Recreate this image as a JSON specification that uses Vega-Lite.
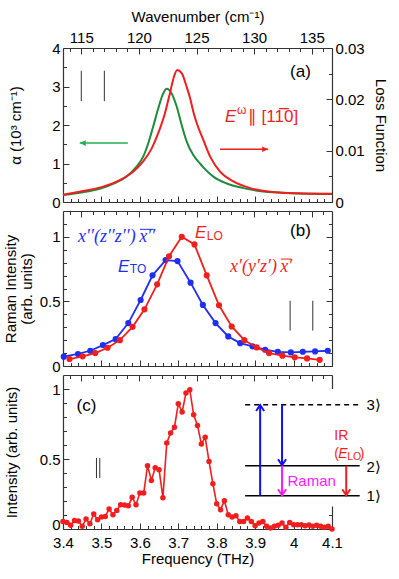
{
"$schema":"https://vega.github.io/schema/vega-lite/v6.json",
"autosize":{"type":"none"},
"padding":{"left":63,"top":48,"right":67,"bottom":50},
"background":"white",
"width":269,"height":481,
"config":{"font":"Liberation Sans","view":{"stroke":null},
 "axis":{"grid":false,"labelFlush":false,"labelOverlap":false,"domainColor":"#333","tickColor":"#333","domainWidth":1.2,"tickWidth":1,"labelFontSize":15,"titleFontSize":15,"titleFontWeight":"normal","labelColor":"black","titleColor":"black","labelFont":"Liberation Sans","titleFont":"Liberation Sans","titleLineHeight":16},
 "text":{"font":"Liberation Sans"}},
"datasets":{
 "ga":[{"f":3.4,"a":0.18},{"f":3.4436,"a":0.24},{"f":3.4957,"a":0.34},{"f":3.5304,"a":0.47},{"f":3.5654,"a":0.66},{"f":3.5914,"a":0.92},{"f":3.6087,"a":1.18},{"f":3.6217,"a":1.52},{"f":3.6347,"a":1.96},{"f":3.6478,"a":2.43},{"f":3.6608,"a":2.82},{"f":3.6697,"a":2.94},{"f":3.6827,"a":2.82},{"f":3.6958,"a":2.48},{"f":3.7088,"a":2.0},{"f":3.7219,"a":1.57},{"f":3.7391,"a":1.22},{"f":3.7565,"a":1.0},{"f":3.7652,"a":0.9},{"f":3.7912,"a":0.66},{"f":3.8262,"a":0.48},{"f":3.8695,"a":0.36},{"f":3.9216,"a":0.27},{"f":3.9913,"a":0.23},{"f":4.1,"a":0.21}],
 "la":[{"f":3.4,"l":0.00143},{"f":3.4436,"l":0.002},{"f":3.5043,"l":0.003},{"f":3.5479,"l":0.00428},{"f":3.5826,"l":0.0059},{"f":3.6087,"l":0.0079},{"f":3.6306,"l":0.0104},{"f":3.6478,"l":0.0134},{"f":3.6653,"l":0.0173},{"f":3.6783,"l":0.0212},{"f":3.6887,"l":0.0244},{"f":3.6973,"l":0.0257},{"f":3.7088,"l":0.0251},{"f":3.7219,"l":0.0224},{"f":3.7305,"l":0.0203},{"f":3.7391,"l":0.0176},{"f":3.7479,"l":0.0154},{"f":3.7652,"l":0.0121},{"f":3.7826,"l":0.0089},{"f":3.8087,"l":0.0059},{"f":3.8434,"l":0.004},{"f":3.887,"l":0.0027},{"f":3.9391,"l":0.002},{"f":4.0088,"l":0.0017},{"f":4.1,"l":0.0016}],
 "bb":[{"f":3.402,"v":0.072},{"f":3.439,"v":0.093},{"f":3.471,"v":0.118},{"f":3.504,"v":0.162},{"f":3.537,"v":0.208},{"f":3.57,"v":0.332},{"f":3.602,"v":0.511},{"f":3.633,"v":0.702},{"f":3.667,"v":0.82},{"f":3.698,"v":0.812},{"f":3.732,"v":0.645},{"f":3.764,"v":0.473},{"f":3.797,"v":0.332},{"f":3.83,"v":0.229},{"f":3.861,"v":0.177},{"f":3.893,"v":0.152},{"f":3.926,"v":0.126},{"f":3.959,"v":0.11},{"f":3.993,"v":0.105},{"f":4.024,"v":0.11},{"f":4.056,"v":0.113},{"f":4.089,"v":0.118}],
 "br":[{"f":3.417,"v":0.054},{"f":3.451,"v":0.075},{"f":3.484,"v":0.1},{"f":3.516,"v":0.141},{"f":3.548,"v":0.2},{"f":3.581,"v":0.303},{"f":3.612,"v":0.439},{"f":3.645,"v":0.632},{"f":3.676,"v":0.85},{"f":3.709,"v":1.0},{"f":3.742,"v":0.941},{"f":3.774,"v":0.702},{"f":3.806,"v":0.47},{"f":3.839,"v":0.306},{"f":3.872,"v":0.2},{"f":3.904,"v":0.144},{"f":3.936,"v":0.1},{"f":3.971,"v":0.08},{"f":4.003,"v":0.067},{"f":4.035,"v":0.059},{"f":4.068,"v":0.048}],
 "cr":[{"f":3.40,"v":0.054},{"f":3.41,"v":0.047},{"f":3.42,"v":0.026},{"f":3.43,"v":0.061},{"f":3.44,"v":0.057},{"f":3.45,"v":0.019},{"f":3.46,"v":0.071},{"f":3.47,"v":0.038},{"f":3.48,"v":0.107},{"f":3.49,"v":0.066},{"f":3.50,"v":0.086},{"f":3.51,"v":0.09},{"f":3.52,"v":0.143},{"f":3.53,"v":0.102},{"f":3.54,"v":0.133},{"f":3.55,"v":0.174},{"f":3.56,"v":0.171},{"f":3.57,"v":0.166},{"f":3.58,"v":0.226},{"f":3.59,"v":0.174},{"f":3.60,"v":0.257},{"f":3.61,"v":0.257},{"f":3.62,"v":0.452},{"f":3.63,"v":0.347},{"f":3.64,"v":0.438},{"f":3.65,"v":0.424},{"f":3.66,"v":0.224},{"f":3.67,"v":0.614},{"f":3.68,"v":0.686},{"f":3.69,"v":0.726},{"f":3.70,"v":0.895},{"f":3.71,"v":0.836},{"f":3.72,"v":0.971},{"f":3.73,"v":0.995},{"f":3.74,"v":0.816},{"f":3.75,"v":0.74},{"f":3.76,"v":0.607},{"f":3.77,"v":0.655},{"f":3.78,"v":0.483},{"f":3.79,"v":0.324},{"f":3.80,"v":0.181},{"f":3.81,"v":0.138},{"f":3.82,"v":0.202},{"f":3.83,"v":0.102},{"f":3.84,"v":0.086},{"f":3.85,"v":0.095},{"f":3.86,"v":0.054},{"f":3.87,"v":0.054},{"f":3.88,"v":0.078},{"f":3.89,"v":0.054},{"f":3.90,"v":0.024},{"f":3.91,"v":0.043},{"f":3.92,"v":0.054},{"f":3.93,"v":0.019},{"f":3.94,"v":0.007},{"f":3.95,"v":0.019},{"f":3.96,"v":0.026},{"f":3.97,"v":0.043},{"f":3.98,"v":0.012},{"f":3.99,"v":0.047},{"f":4.00,"v":0.031},{"f":4.01,"v":0.031},{"f":4.02,"v":0.031},{"f":4.03,"v":0.024},{"f":4.04,"v":0.029},{"f":4.05,"v":0.019},{"f":4.06,"v":0.026},{"f":4.07,"v":0.019},{"f":4.08,"v":0.012},{"f":4.09,"v":0.019},{"f":4.10,"v":0.0}]
},
"resolve":{"scale":{"x":"independent","y":"independent"}},
"layer":[
 {"data":{"name":"ga"},"mark":{"type":"line","color":"#1e8a3c","strokeWidth":2,"interpolate":"monotone"},
  "encoding":{"x":{"field":"f","type":"quantitative","scale":{"domain":[3.4,4.1]},"axis":{"orient":"bottom","offset":-327,"values":[3.4,3.5,3.6,3.7,3.8,3.9,4.0,4.1],"labels":false,"tickSize":-6,"title":null}},
   "y":{"field":"a","type":"quantitative","scale":{"domain":[0,4],"range":[154,0]},"axis":{"orient":"left","values":[0,1,2,3,4],"format":"~g","tickSize":-6,"labelPadding":9,"title":"α (10³ cm⁻¹)","titlePadding":28}}}},
 {"data":{"name":"la"},"mark":{"type":"line","color":"#f01e1e","strokeWidth":2,"interpolate":"monotone"},
  "encoding":{"x":{"field":"f","type":"quantitative","scale":{"domain":[3.4,4.1]},"axis":{"orient":"bottom","offset":-327,"values":[3.42,3.44,3.46,3.48,3.52,3.54,3.56,3.58,3.62,3.64,3.66,3.68,3.72,3.74,3.76,3.78,3.82,3.84,3.86,3.88,3.92,3.94,3.96,3.98,4.02,4.04,4.06,4.08],"labels":false,"domain":false,"tickSize":-3.5,"title":null}},
   "y":{"field":"l","type":"quantitative","scale":{"domain":[0,0.03],"range":[154,0]},"axis":{"orient":"right","values":[0,0.01,0.02,0.03],"format":"~g","tickSize":-6,"labelPadding":9,"title":"Loss Function","titlePadding":8}}}},
 {"data":{"name":"bb"},"mark":{"type":"line","color":"#1f2ff0","strokeWidth":1.8,"point":{"filled":true,"size":38,"color":"#1f2ff0","opacity":1}},
  "encoding":{"x":{"field":"f","type":"quantitative","scale":{"domain":[3.4,4.1]},"axis":{"orient":"bottom","offset":-163,"values":[3.4,3.5,3.6,3.7,3.8,3.9,4.0,4.1],"labels":false,"tickSize":-6,"title":null}},
   "y":{"field":"v","type":"quantitative","scale":{"domain":[0,1.2],"range":[318,163]},"axis":{"orient":"left","values":[0,0.5,1],"format":"~g","tickSize":-6,"labelPadding":9,"title":["Raman Intensity","(arb. units)"],"titlePadding":5}}}},
 {"data":{"name":"br"},"mark":{"type":"line","color":"#f01e1e","strokeWidth":1.8,"point":{"filled":true,"size":38,"color":"#f01e1e","opacity":1}},
  "encoding":{"x":{"field":"f","type":"quantitative","scale":{"domain":[3.4,4.1]},"axis":{"orient":"bottom","offset":-163,"values":[3.42,3.44,3.46,3.48,3.52,3.54,3.56,3.58,3.62,3.64,3.66,3.68,3.72,3.74,3.76,3.78,3.82,3.84,3.86,3.88,3.92,3.94,3.96,3.98,4.02,4.04,4.06,4.08],"labels":false,"domain":false,"tickSize":-3.5,"title":null}},
   "y":{"field":"v","type":"quantitative","scale":{"domain":[0,1.2],"range":[318,163]},"axis":{"orient":"right","values":[0,0.5,1],"labels":false,"tickSize":-6,"title":null}}}},
 {"data":{"name":"cr"},"mark":{"type":"line","color":"#f01e1e","strokeWidth":1.6,"point":{"filled":true,"size":30,"color":"#f01e1e","opacity":1}},
  "encoding":{"x":{"field":"f","type":"quantitative","scale":{"domain":[3.4,4.1]},"axis":{"orient":"bottom","values":[3.4,3.5,3.6,3.7,3.8,3.9,4.0,4.1],"format":"~g","tickSize":-6,"labelPadding":12,"title":"Frequency (THz)","titlePadding":1}},
   "y":{"field":"v","type":"quantitative","scale":{"domain":[0,1.1],"range":[481,327]},"axis":{"orient":"left","values":[0.5,1],"format":"~g","tickSize":-6,"labelPadding":9,"title":"Intensity (arb. units)","titlePadding":20}}}},
 {"data":{"values":[{"f":3.5,"y":0.5}]},"mark":{"type":"point","opacity":0},
  "encoding":{"x":{"field":"f","type":"quantitative","scale":{"domain":[3.4,4.1]},"axis":null},
   "y":{"field":"y","type":"quantitative","scale":{"domain":[0,1.1],"range":[481,327]},"axis":{"orient":"left","values":[0],"format":"~g","domain":false,"tickSize":-6,"labelPadding":9,"labelOffset":-5,"title":null}}}},
 {"data":{"values":[{"w":120,"y":1}]},"mark":{"type":"point","opacity":0},
  "encoding":{"x":{"field":"w","type":"quantitative","scale":{"domain":[113.41,136.76]},"axis":{"orient":"top","values":[115,120,125,130,135],"format":"~g","tickSize":-6,"labelPadding":9,"title":"Wavenumber (cm⁻¹)","titlePadding":6}},
   "y":{"field":"y","type":"quantitative","scale":{"domain":[0,4],"range":[154,0]},"axis":{"orient":"left","values":[0.5,1.5,2.5,3.5],"labels":false,"domain":false,"tickSize":-3.5,"title":null}}}},
 {"data":{"values":[{"w":120,"y":0.01}]},"mark":{"type":"point","opacity":0},
  "encoding":{"x":{"field":"w","type":"quantitative","scale":{"domain":[113.41,136.76]},"axis":{"orient":"top","values":[114,116,117,118,119,121,122,123,124,126,127,128,129,131,132,133,134,136],"labels":false,"domain":false,"tickSize":-3.5,"title":null}},
   "y":{"field":"y","type":"quantitative","scale":{"domain":[0,0.03],"range":[154,0]},"axis":{"orient":"right","values":[0.005,0.015,0.025],"labels":false,"domain":false,"tickSize":-3.5,"title":null}}}},
 {"data":{"values":[{"w":120,"y":0.5}]},"mark":{"type":"point","opacity":0},
  "encoding":{"x":{"field":"w","type":"quantitative","scale":{"domain":[113.41,136.76]},"axis":{"orient":"top","offset":-163,"values":[115,120,125,130,135],"labels":false,"tickSize":-6,"title":null}},
   "y":{"field":"y","type":"quantitative","scale":{"domain":[0,1.2],"range":[318,163]},"axis":{"orient":"left","values":[0.1,0.2,0.3,0.4,0.6,0.7,0.8,0.9,1.1],"labels":false,"domain":false,"tickSize":-3.5,"title":null}}}},
 {"data":{"values":[{"w":120,"y":0.5}]},"mark":{"type":"point","opacity":0},
  "encoding":{"x":{"field":"w","type":"quantitative","scale":{"domain":[113.41,136.76]},"axis":{"orient":"top","offset":-163,"values":[114,116,117,118,119,121,122,123,124,126,127,128,129,131,132,133,134,136],"labels":false,"domain":false,"tickSize":-3.5,"title":null}},
   "y":{"field":"y","type":"quantitative","scale":{"domain":[0,1.2],"range":[318,163]},"axis":{"orient":"right","values":[0.1,0.2,0.3,0.4,0.6,0.7,0.8,0.9,1.1],"labels":false,"domain":false,"tickSize":-3.5,"title":null}}}},
 {"data":{"values":[{"w":120,"y":0.5}]},"mark":{"type":"point","opacity":0},
  "encoding":{"x":{"field":"w","type":"quantitative","scale":{"domain":[113.41,136.76]},"axis":{"orient":"top","offset":-327,"values":[115,120,125,130,135],"labels":false,"tickSize":-6,"title":null}},
   "y":{"field":"y","type":"quantitative","scale":{"domain":[0,1.1],"range":[481,327]},"axis":{"orient":"left","values":[0.1,0.2,0.3,0.4,0.6,0.7,0.8,0.9],"labels":false,"domain":false,"tickSize":-3.5,"title":null}}}},
 {"data":{"values":[{"w":120,"y":0.5}]},"mark":{"type":"point","opacity":0},
  "encoding":{"x":{"field":"w","type":"quantitative","scale":{"domain":[113.41,136.76]},"axis":{"orient":"top","offset":-327,"values":[114,116,117,118,119,121,122,123,124,126,127,128,129,131,132,133,134,136],"labels":false,"domain":false,"tickSize":-3.5,"title":null}},
   "y":{"field":"y","type":"quantitative","scale":{"domain":[0,1.1],"range":[481,327]},"axis":{"orient":"right","values":[0,0.5,1],"labels":false,"tickSize":-6,"title":null}}}},
 {"data":{"values":[{"f":3.5,"y":0.5}]},"mark":{"type":"point","opacity":0},
  "encoding":{"x":{"field":"f","type":"quantitative","scale":{"domain":[3.4,4.1]},"axis":{"orient":"bottom","values":[3.42,3.44,3.46,3.48,3.52,3.54,3.56,3.58,3.62,3.64,3.66,3.68,3.72,3.74,3.76,3.78,3.82,3.84,3.86,3.88,3.92,3.94,3.96,3.98,4.02,4.04,4.06,4.08],"labels":false,"domain":false,"tickSize":-3.5,"title":null}},
   "y":{"field":"y","type":"quantitative","scale":{"domain":[0,1.1],"range":[481,327]},"axis":{"orient":"right","values":[0.1,0.2,0.3,0.4,0.6,0.7,0.8,0.9],"labels":false,"domain":false,"tickSize":-3.5,"title":null}}}},
 {"data":{"values":[{"f":3.4476,"y1":2.62,"y2":3.41},{"f":3.5076,"y1":2.62,"y2":3.41}]},"mark":{"type":"rule","color":"#333","strokeWidth":1},
  "encoding":{"x":{"field":"f","type":"quantitative","scale":{"domain":[3.4,4.1]},"axis":null},"y":{"field":"y1","type":"quantitative","scale":{"domain":[0,4],"range":[154,0]},"axis":null},"y2":{"field":"y2"}}},
 {"data":{"values":[{"f":3.4436,"f2":3.5689,"y":1.53}]},"mark":{"type":"rule","color":"#22b14c","strokeWidth":1.5},
  "encoding":{"x":{"field":"f","type":"quantitative","scale":{"domain":[3.4,4.1]},"axis":null},"x2":{"field":"f2"},"y":{"field":"y","type":"quantitative","scale":{"domain":[0,4],"range":[154,0]},"axis":null}}},
 {"data":{"values":[{"f":3.4436,"y":1.53}]},"mark":{"type":"point","shape":"M0,0L1.5,-0.7L1.5,0.7Z","size":64,"filled":true,"opacity":1,"color":"#22b14c"},
  "encoding":{"x":{"field":"f","type":"quantitative","scale":{"domain":[3.4,4.1]},"axis":null},"y":{"field":"y","type":"quantitative","scale":{"domain":[0,4],"range":[154,0]},"axis":null}}},
 {"data":{"values":[{"f":3.8087,"f2":3.9339,"y":1.37}]},"mark":{"type":"rule","color":"#f01e1e","strokeWidth":1.5},
  "encoding":{"x":{"field":"f","type":"quantitative","scale":{"domain":[3.4,4.1]},"axis":null},"x2":{"field":"f2"},"y":{"field":"y","type":"quantitative","scale":{"domain":[0,4],"range":[154,0]},"axis":null}}},
 {"data":{"values":[{"f":3.9339,"y":1.37}]},"mark":{"type":"point","shape":"M0,0L-1.5,-0.7L-1.5,0.7Z","size":64,"filled":true,"opacity":1,"color":"#f01e1e"},
  "encoding":{"x":{"field":"f","type":"quantitative","scale":{"domain":[3.4,4.1]},"axis":null},"y":{"field":"y","type":"quantitative","scale":{"domain":[0,4],"range":[154,0]},"axis":null}}},
 {"data":{"values":[{"f":4.018,"y":3.38,"t":"(a)"}]},"mark":{"type":"text","fontSize":17,"align":"center","baseline":"middle","color":"black"},
  "encoding":{"x":{"field":"f","type":"quantitative","scale":{"domain":[3.4,4.1]},"axis":null},"y":{"field":"y","type":"quantitative","scale":{"domain":[0,4],"range":[154,0]},"axis":null},"text":{"field":"t"}}},
 {"data":{"values":[{"f":3.8217,"y":2.22,"t":"E"}]},"mark":{"type":"text","fontSize":17,"fontStyle":"italic","align":"left","baseline":"middle","color":"#f01e1e"},
  "encoding":{"x":{"field":"f","type":"quantitative","scale":{"domain":[3.4,4.1]},"axis":null},"y":{"field":"y","type":"quantitative","scale":{"domain":[0,4],"range":[154,0]},"axis":null},"text":{"field":"t"}}},
 {"data":{"values":[{"f":3.853,"y":2.38,"t":"ω"}]},"mark":{"type":"text","fontSize":12,"align":"left","baseline":"middle","color":"#f01e1e"},
  "encoding":{"x":{"field":"f","type":"quantitative","scale":{"domain":[3.4,4.1]},"axis":null},"y":{"field":"y","type":"quantitative","scale":{"domain":[0,4],"range":[154,0]},"axis":null},"text":{"field":"t"}}},
 {"data":{"values":[{"f":3.881,"y":2.22,"t":"∥ [11̅0]"}]},"mark":{"type":"text","fontSize":17,"align":"left","baseline":"middle","color":"#f01e1e"},
  "encoding":{"x":{"field":"f","type":"quantitative","scale":{"domain":[3.4,4.1]},"axis":null},"y":{"field":"y","type":"quantitative","scale":{"domain":[0,4],"range":[154,0]},"axis":null},"text":{"field":"t"}}},
 {"data":{"values":[{"f":3.991,"y1":0.274,"y2":0.505},{"f":4.05,"y1":0.274,"y2":0.505}]},"mark":{"type":"rule","color":"#333","strokeWidth":1},
  "encoding":{"x":{"field":"f","type":"quantitative","scale":{"domain":[3.4,4.1]},"axis":null},"y":{"field":"y1","type":"quantitative","scale":{"domain":[0,1.2],"range":[318,163]},"axis":null},"y2":{"field":"y2"}}},
 {"data":{"values":[{"f":4.018,"y":1.047,"t":"(b)"}]},"mark":{"type":"text","fontSize":17,"align":"center","baseline":"middle","color":"black"},
  "encoding":{"x":{"field":"f","type":"quantitative","scale":{"domain":[3.4,4.1]},"axis":null},"y":{"field":"y","type":"quantitative","scale":{"domain":[0,1.2],"range":[318,163]},"axis":null},"text":{"field":"t"}}},
 {"data":{"values":[{"f":3.7435,"y":1.031,"t":"E"}]},"mark":{"type":"text","fontSize":17,"fontStyle":"italic","align":"left","baseline":"middle","color":"#f01e1e"},
  "encoding":{"x":{"field":"f","type":"quantitative","scale":{"domain":[3.4,4.1]},"axis":null},"y":{"field":"y","type":"quantitative","scale":{"domain":[0,1.2],"range":[318,163]},"axis":null},"text":{"field":"t"}}},
 {"data":{"values":[{"f":3.774,"y":1.01,"t":"LO"}]},"mark":{"type":"text","fontSize":12,"align":"left","baseline":"middle","color":"#f01e1e"},
  "encoding":{"x":{"field":"f","type":"quantitative","scale":{"domain":[3.4,4.1]},"axis":null},"y":{"field":"y","type":"quantitative","scale":{"domain":[0,1.2],"range":[318,163]},"axis":null},"text":{"field":"t"}}},
 {"data":{"values":[{"f":3.5434,"y":0.769,"t":"E"}]},"mark":{"type":"text","fontSize":17,"fontStyle":"italic","align":"left","baseline":"middle","color":"#1f2ff0"},
  "encoding":{"x":{"field":"f","type":"quantitative","scale":{"domain":[3.4,4.1]},"axis":null},"y":{"field":"y","type":"quantitative","scale":{"domain":[0,1.2],"range":[318,163]},"axis":null},"text":{"field":"t"}}},
 {"data":{"values":[{"f":3.574,"y":0.75,"t":"TO"}]},"mark":{"type":"text","fontSize":12,"align":"left","baseline":"middle","color":"#1f2ff0"},
  "encoding":{"x":{"field":"f","type":"quantitative","scale":{"domain":[3.4,4.1]},"axis":null},"y":{"field":"y","type":"quantitative","scale":{"domain":[0,1.2],"range":[318,163]},"axis":null},"text":{"field":"t"}}},
 {"data":{"values":[{"f":3.4391,"y":1.0,"t":"x′′(z′′z′′)"},{"f":3.5985,"y":1.0,"t":"x′′"}]},"mark":{"type":"text","fontSize":18,"font":"Liberation Serif","fontStyle":"italic","align":"left","baseline":"middle","color":"#1f2ff0"},
  "encoding":{"x":{"field":"f","type":"quantitative","scale":{"domain":[3.4,4.1]},"axis":null},"y":{"field":"y","type":"quantitative","scale":{"domain":[0,1.2],"range":[318,163]},"axis":null},"text":{"field":"t"}}},
 {"data":{"values":[{"f":3.6,"f2":3.636,"y":1.058}]},"mark":{"type":"rule","color":"#1f2ff0","strokeWidth":1},
  "encoding":{"x":{"field":"f","type":"quantitative","scale":{"domain":[3.4,4.1]},"axis":null},"x2":{"field":"f2"},"y":{"field":"y","type":"quantitative","scale":{"domain":[0,1.2],"range":[318,163]},"axis":null}}},
 {"data":{"values":[{"f":3.8348,"y":0.77,"t":"x′(y′z′)"},{"f":3.9655,"y":0.77,"t":"x′"}]},"mark":{"type":"text","fontSize":18,"font":"Liberation Serif","fontStyle":"italic","align":"left","baseline":"middle","color":"#f01e1e"},
  "encoding":{"x":{"field":"f","type":"quantitative","scale":{"domain":[3.4,4.1]},"axis":null},"y":{"field":"y","type":"quantitative","scale":{"domain":[0,1.2],"range":[318,163]},"axis":null},"text":{"field":"t"}}},
 {"data":{"values":[{"f":3.967,"f2":3.994,"y":0.828}]},"mark":{"type":"rule","color":"#f01e1e","strokeWidth":1},
  "encoding":{"x":{"field":"f","type":"quantitative","scale":{"domain":[3.4,4.1]},"axis":null},"x2":{"field":"f2"},"y":{"field":"y","type":"quantitative","scale":{"domain":[0,1.2],"range":[318,163]},"axis":null}}},
 {"data":{"values":[{"f":3.865,"f2":4.25,"y1":0.16,"y2":1.0}]},"mark":{"type":"rect","color":"white","opacity":1},
  "encoding":{"x":{"field":"f","type":"quantitative","scale":{"domain":[3.4,4.1]},"axis":null},"x2":{"field":"f2"},"y":{"field":"y1","type":"quantitative","scale":{"domain":[0,1.1],"range":[481,327]},"axis":null},"y2":{"field":"y2"}}},
 {"data":{"values":[{"f":3.4871,"y1":0.364,"y2":0.507},{"f":3.4957,"y1":0.364,"y2":0.507}]},"mark":{"type":"rule","color":"#333","strokeWidth":1},
  "encoding":{"x":{"field":"f","type":"quantitative","scale":{"domain":[3.4,4.1]},"axis":null},"y":{"field":"y1","type":"quantitative","scale":{"domain":[0,1.1],"range":[481,327]},"axis":null},"y2":{"field":"y2"}}},
 {"data":{"values":[{"f":3.874,"f2":4.172,"y":0.888}]},"mark":{"type":"rule","color":"black","strokeWidth":1.5,"strokeDash":[5,4]},
  "encoding":{"x":{"field":"f","type":"quantitative","scale":{"domain":[3.4,4.1]},"axis":null},"x2":{"field":"f2"},"y":{"field":"y","type":"quantitative","scale":{"domain":[0,1.1],"range":[481,327]},"axis":null}}},
 {"data":{"values":[{"f":3.874,"f2":4.172,"y":0.452},{"f":3.874,"f2":4.172,"y":0.238}]},"mark":{"type":"rule","color":"black","strokeWidth":1.5},
  "encoding":{"x":{"field":"f","type":"quantitative","scale":{"domain":[3.4,4.1]},"axis":null},"x2":{"field":"f2"},"y":{"field":"y","type":"quantitative","scale":{"domain":[0,1.1],"range":[481,327]},"axis":null}}},
 {"data":{"values":[{"f":3.913,"y1":0.238,"y2":0.884},{"f":3.97,"y1":0.888,"y2":0.456}]},"mark":{"type":"rule","color":"#1010f5","strokeWidth":2},
  "encoding":{"x":{"field":"f","type":"quantitative","scale":{"domain":[3.4,4.1]},"axis":null},"y":{"field":"y1","type":"quantitative","scale":{"domain":[0,1.1],"range":[481,327]},"axis":null},"y2":{"field":"y2"}}},
 {"data":{"values":[{"f":3.913,"y":0.886}]},"mark":{"type":"point","shape":"M-1,1.5L0,0L1,1.5","size":64,"filled":false,"strokeWidth":2,"opacity":1,"color":"#1010f5"},
  "encoding":{"x":{"field":"f","type":"quantitative","scale":{"domain":[3.4,4.1]},"axis":null},"y":{"field":"y","type":"quantitative","scale":{"domain":[0,1.1],"range":[481,327]},"axis":null}}},
 {"data":{"values":[{"f":3.97,"y":0.455}]},"mark":{"type":"point","shape":"M-1,-1.5L0,0L1,-1.5","size":64,"filled":false,"strokeWidth":2,"opacity":1,"color":"#1010f5"},
  "encoding":{"x":{"field":"f","type":"quantitative","scale":{"domain":[3.4,4.1]},"axis":null},"y":{"field":"y","type":"quantitative","scale":{"domain":[0,1.1],"range":[481,327]},"axis":null}}},
 {"data":{"values":[{"f":3.97,"y1":0.452,"y2":0.242}]},"mark":{"type":"rule","color":"#ff18ff","strokeWidth":2},
  "encoding":{"x":{"field":"f","type":"quantitative","scale":{"domain":[3.4,4.1]},"axis":null},"y":{"field":"y1","type":"quantitative","scale":{"domain":[0,1.1],"range":[481,327]},"axis":null},"y2":{"field":"y2"}}},
 {"data":{"values":[{"f":3.97,"y":0.241}]},"mark":{"type":"point","shape":"M-1,-1.5L0,0L1,-1.5","size":64,"filled":false,"strokeWidth":2,"opacity":1,"color":"#ff18ff"},
  "encoding":{"x":{"field":"f","type":"quantitative","scale":{"domain":[3.4,4.1]},"axis":null},"y":{"field":"y","type":"quantitative","scale":{"domain":[0,1.1],"range":[481,327]},"axis":null}}},
 {"data":{"values":[{"f":4.137,"y1":0.452,"y2":0.242}]},"mark":{"type":"rule","color":"#f01e1e","strokeWidth":2},
  "encoding":{"x":{"field":"f","type":"quantitative","scale":{"domain":[3.4,4.1]},"axis":null},"y":{"field":"y1","type":"quantitative","scale":{"domain":[0,1.1],"range":[481,327]},"axis":null},"y2":{"field":"y2"}}},
 {"data":{"values":[{"f":4.137,"y":0.241}]},"mark":{"type":"point","shape":"M-1,-1.5L0,0L1,-1.5","size":64,"filled":false,"strokeWidth":2,"opacity":1,"color":"#f01e1e"},
  "encoding":{"x":{"field":"f","type":"quantitative","scale":{"domain":[3.4,4.1]},"axis":null},"y":{"field":"y","type":"quantitative","scale":{"domain":[0,1.1],"range":[481,327]},"axis":null}}},
 {"data":{"values":[{"f":3.461,"y":0.881,"t":"(c)"}]},"mark":{"type":"text","fontSize":17,"align":"center","baseline":"middle","color":"black"},
  "encoding":{"x":{"field":"f","type":"quantitative","scale":{"domain":[3.4,4.1]},"axis":null},"y":{"field":"y","type":"quantitative","scale":{"domain":[0,1.1],"range":[481,327]},"axis":null},"text":{"field":"t"}}},
 {"data":{"values":[{"f":4.19,"y":0.884,"t":"3⟩"},{"f":4.19,"y":0.44,"t":"2⟩"},{"f":4.19,"y":0.234,"t":"1⟩"}]},"mark":{"type":"text","fontSize":15,"align":"left","baseline":"middle","color":"black"},
  "encoding":{"x":{"field":"f","type":"quantitative","scale":{"domain":[3.4,4.1]},"axis":null},"y":{"field":"y","type":"quantitative","scale":{"domain":[0,1.1],"range":[481,327]},"axis":null},"text":{"field":"t"}}},
 {"data":{"values":[{"f":4.106,"y":0.662,"t":"IR"}]},"mark":{"type":"text","fontSize":14,"align":"left","baseline":"middle","color":"#f01e1e"},
  "encoding":{"x":{"field":"f","type":"quantitative","scale":{"domain":[3.4,4.1]},"axis":null},"y":{"field":"y","type":"quantitative","scale":{"domain":[0,1.1],"range":[481,327]},"axis":null},"text":{"field":"t"}}},
 {"data":{"values":[{"f":4.106,"y":0.535,"t":"("},{"f":4.172,"y":0.535,"t":")"}]},"mark":{"type":"text","fontSize":14,"align":"left","baseline":"middle","color":"#f01e1e"},
  "encoding":{"x":{"field":"f","type":"quantitative","scale":{"domain":[3.4,4.1]},"axis":null},"y":{"field":"y","type":"quantitative","scale":{"domain":[0,1.1],"range":[481,327]},"axis":null},"text":{"field":"t"}}},
 {"data":{"values":[{"f":4.116,"y":0.535,"t":"E"}]},"mark":{"type":"text","fontSize":14,"fontStyle":"italic","align":"left","baseline":"middle","color":"#f01e1e"},
  "encoding":{"x":{"field":"f","type":"quantitative","scale":{"domain":[3.4,4.1]},"axis":null},"y":{"field":"y","type":"quantitative","scale":{"domain":[0,1.1],"range":[481,327]},"axis":null},"text":{"field":"t"}}},
 {"data":{"values":[{"f":4.1395,"y":0.513,"t":"LO"}]},"mark":{"type":"text","fontSize":10.5,"align":"left","baseline":"middle","color":"#f01e1e"},
  "encoding":{"x":{"field":"f","type":"quantitative","scale":{"domain":[3.4,4.1]},"axis":null},"y":{"field":"y","type":"quantitative","scale":{"domain":[0,1.1],"range":[481,327]},"axis":null},"text":{"field":"t"}}},
 {"data":{"values":[{"f":4.047,"y":0.345,"t":"Raman"}]},"mark":{"type":"text","fontSize":15,"align":"center","baseline":"middle","color":"#ff18ff"},
  "encoding":{"x":{"field":"f","type":"quantitative","scale":{"domain":[3.4,4.1]},"axis":null},"y":{"field":"y","type":"quantitative","scale":{"domain":[0,1.1],"range":[481,327]},"axis":null},"text":{"field":"t"}}}
]
}
